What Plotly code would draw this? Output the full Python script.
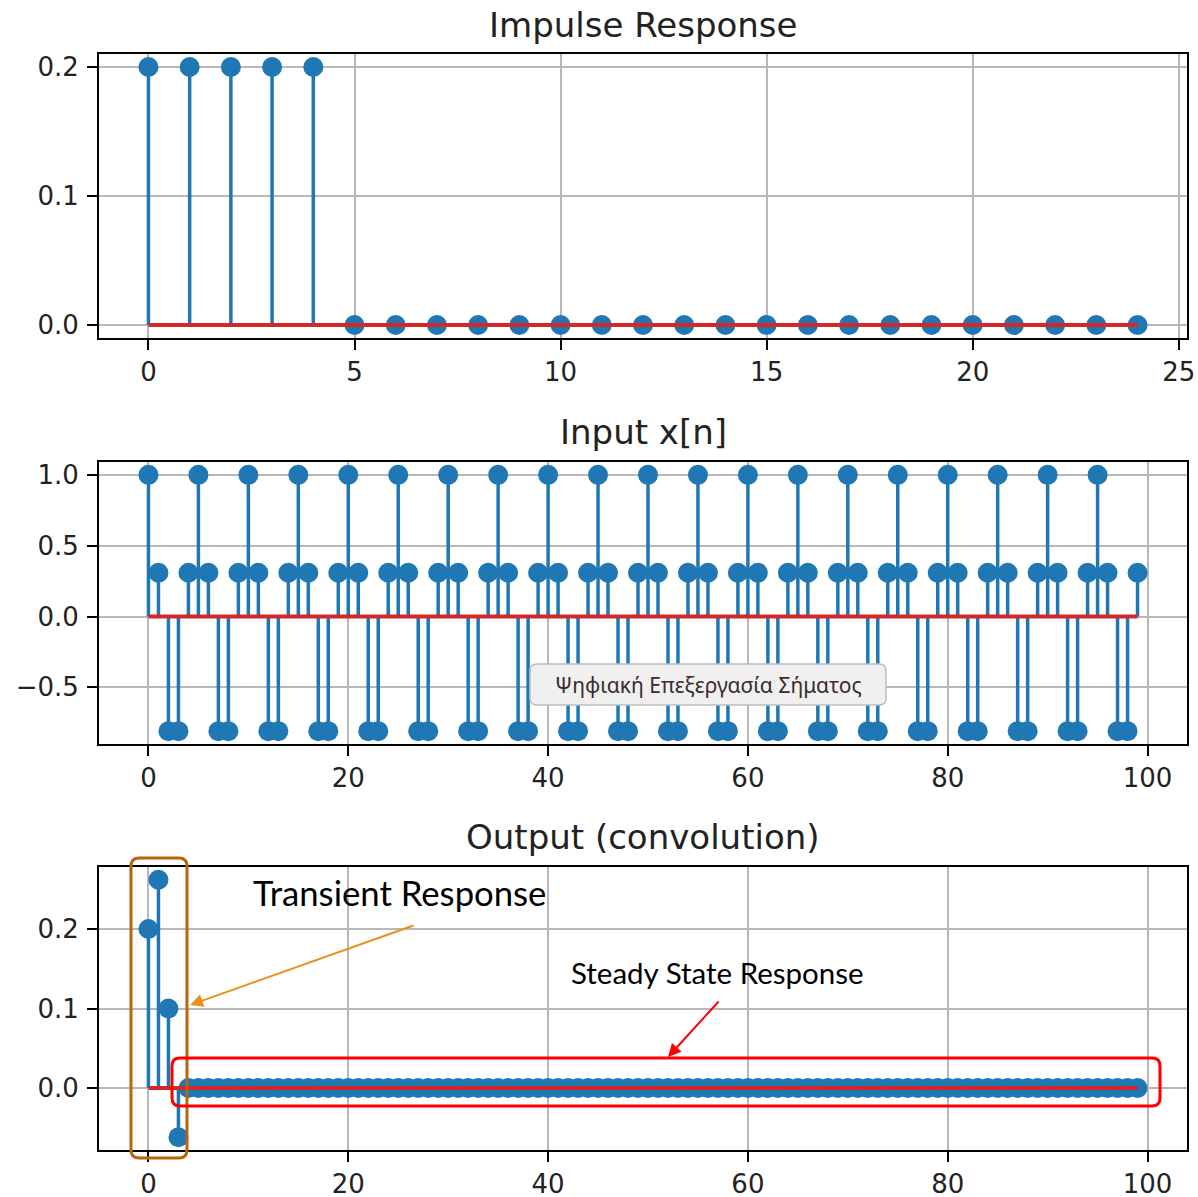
import plotly.graph_objects as go

# ---------------- data ----------------
n_h = list(range(25))
h_vals = [0.2, 0.2, 0.2, 0.2, 0.2,
          0.0, 0.0, 0.0, 0.0, 0.0,
          0.0, 0.0, 0.0, 0.0, 0.0,
          0.0, 0.0, 0.0, 0.0, 0.0,
          0.0, 0.0, 0.0, 0.0, 0.0]

n_x = list(range(100))
x_vals = [
    1.0, 0.309, -0.809, -0.809, 0.309, 1.0, 0.309, -0.809, -0.809, 0.309,
    1.0, 0.309, -0.809, -0.809, 0.309, 1.0, 0.309, -0.809, -0.809, 0.309,
    1.0, 0.309, -0.809, -0.809, 0.309, 1.0, 0.309, -0.809, -0.809, 0.309,
    1.0, 0.309, -0.809, -0.809, 0.309, 1.0, 0.309, -0.809, -0.809, 0.309,
    1.0, 0.309, -0.809, -0.809, 0.309, 1.0, 0.309, -0.809, -0.809, 0.309,
    1.0, 0.309, -0.809, -0.809, 0.309, 1.0, 0.309, -0.809, -0.809, 0.309,
    1.0, 0.309, -0.809, -0.809, 0.309, 1.0, 0.309, -0.809, -0.809, 0.309,
    1.0, 0.309, -0.809, -0.809, 0.309, 1.0, 0.309, -0.809, -0.809, 0.309,
    1.0, 0.309, -0.809, -0.809, 0.309, 1.0, 0.309, -0.809, -0.809, 0.309,
    1.0, 0.309, -0.809, -0.809, 0.309, 1.0, 0.309, -0.809, -0.809, 0.309,
]

n_y = list(range(100))
y_vals = [
    0.2, 0.262, 0.1, -0.062, 0.0, 0.0, 0.0, 0.0, 0.0, 0.0,
    0.0, 0.0, 0.0, 0.0, 0.0, 0.0, 0.0, 0.0, 0.0, 0.0,
    0.0, 0.0, 0.0, 0.0, 0.0, 0.0, 0.0, 0.0, 0.0, 0.0,
    0.0, 0.0, 0.0, 0.0, 0.0, 0.0, 0.0, 0.0, 0.0, 0.0,
    0.0, 0.0, 0.0, 0.0, 0.0, 0.0, 0.0, 0.0, 0.0, 0.0,
    0.0, 0.0, 0.0, 0.0, 0.0, 0.0, 0.0, 0.0, 0.0, 0.0,
    0.0, 0.0, 0.0, 0.0, 0.0, 0.0, 0.0, 0.0, 0.0, 0.0,
    0.0, 0.0, 0.0, 0.0, 0.0, 0.0, 0.0, 0.0, 0.0, 0.0,
    0.0, 0.0, 0.0, 0.0, 0.0, 0.0, 0.0, 0.0, 0.0, 0.0,
    0.0, 0.0, 0.0, 0.0, 0.0, 0.0, 0.0, 0.0, 0.0, 0.0,
]

titles = ["Impulse Response", "Input x[n]", "Output (convolution)"]

# ---------------- layout helpers ----------------
W, H = 1198, 1197
def px(x): return x / W
def py(y): return 1 - y / H

BLUE = "#1f77b4"
RED = "#d62728"
TXT = "#222222"

fig = go.Figure()

panels = [
    (n_h, h_vals, "x", "y", [-1.2, 25.2], 5, [-0.0101, 0.2101], 0.1, (54, 338), 25),
    (n_x, x_vals, "x2", "y2", [-4.95, 103.95], 20, [-0.8995, 1.0905], 0.5, (462, 744), 432),
    (n_y, y_vals, "x3", "y3", [-4.95, 103.95], 20, [-0.0780, 0.2780], 0.1, (867, 1150), 837),
]

for i, (nn, vv, xa, ya, xr, dx, yr, dy, (top, bot), ty) in enumerate(panels):
    sx, sy = [], []
    for a, b in zip(nn, vv):
        sx += [a, a, None]
        sy += [0, b, None]
    fig.add_trace(go.Scatter(x=sx, y=sy, mode="lines", xaxis=xa, yaxis=ya,
                             line=dict(color=BLUE, width=3.5), hoverinfo="skip",
                             showlegend=False))
    fig.add_trace(go.Scatter(x=nn, y=vv, mode="markers", xaxis=xa, yaxis=ya,
                             marker=dict(color=BLUE, size=20, line=dict(width=0)),
                             showlegend=False))
    fig.add_trace(go.Scatter(x=[nn[0], nn[-1]], y=[0, 0], mode="lines",
                             xaxis=xa, yaxis=ya, line=dict(color=RED, width=4),
                             showlegend=False))
    suffix = "" if i == 0 else str(i + 1)
    common = dict(showline=True, mirror=True, linecolor="black", linewidth=2,
                  showgrid=True, gridcolor="#b8b8b8", gridwidth=1.5,
                  zeroline=False, ticks="outside", ticklen=10, tickwidth=2,
                  tickcolor="black", tickfont=dict(family="DejaVu Sans", size=26, color=TXT),
                  automargin=False)
    fig.layout["xaxis" + suffix] = dict(domain=[px(99), px(1187)], range=xr,
                                        dtick=dx, tick0=0, anchor="y" + suffix,
                                        ticklabelstandoff=0, **common)
    fig.layout["yaxis" + suffix] = dict(domain=[py(bot), py(top)], range=yr,
                                        dtick=dy, tick0=0, tickformat=".1f",
                                        anchor="x" + suffix, ticklabelstandoff=3, **common)
    fig.add_annotation(text=titles[i], xref="paper", yref="paper",
                       x=px(643), y=py(ty), xanchor="center", yanchor="middle",
                       showarrow=False, font=dict(family="DejaVu Sans", size=34, color=TXT))

# ---------------- overlay decorations ----------------
def rrect(x0, y0, x1, y1, r):
    pts = [("M", x0 + r, y0), ("L", x1 - r, y0), ("Q", x1, y0, x1, y0 + r),
           ("L", x1, y1 - r), ("Q", x1, y1, x1 - r, y1), ("L", x0 + r, y1),
           ("Q", x0, y1, x0, y1 - r), ("L", x0, y0 + r), ("Q", x0, y0, x0 + r, y0)]
    s = ""
    for p in pts:
        cmd = p[0]
        coords = p[1:]
        parts = []
        for k in range(0, len(coords), 2):
            parts.append(f"{px(coords[k]):.5f},{py(coords[k+1]):.5f}")
        s += cmd + " " + " ".join(parts) + " "
    return s + "Z"

# tooltip-like label
fig.add_shape(type="path", path=rrect(530, 664, 886, 705, 7), xref="paper", yref="paper",
              fillcolor="#f0f0f0", line=dict(color="#bdbdbd", width=1.5))
fig.add_annotation(text="Ψηφιακή Επεξεργασία Σήματος", xref="paper", yref="paper",
                   x=px(708), y=py(685), xanchor="center", yanchor="middle", showarrow=False,
                   font=dict(family="Noto Sans", size=21, color="#3a2b2b"))

# transient box (brown)
fig.add_shape(type="path", path=rrect(131, 858, 187, 1158, 8), xref="paper", yref="paper",
              line=dict(color="#b5650d", width=3))
# steady-state box (red)
fig.add_shape(type="path", path=rrect(172, 1058, 1160, 1106, 8), xref="paper", yref="paper",
              line=dict(color="#ff0000", width=3))

fig.add_annotation(text="Transient Response", xref="paper", yref="paper",
                   x=px(251), y=py(892), xanchor="left", yanchor="middle", showarrow=False,
                   font=dict(family="Lato", size=34.7, color="black"))
fig.add_annotation(text="", xref="paper", yref="paper", x=px(190), y=py(1005),
                   ax=225, ay=-80, showarrow=True, arrowhead=2, arrowsize=1.3,
                   arrowwidth=2, arrowcolor="#e8901c")

fig.add_annotation(text="Steady State Response", xref="paper", yref="paper",
                   x=px(569), y=py(972), xanchor="left", yanchor="middle", showarrow=False,
                   font=dict(family="Lato", size=29.5, color="black"))
fig.add_annotation(text="", xref="paper", yref="paper", x=px(668), y=py(1057),
                   ax=52, ay=-57, showarrow=True, arrowhead=2, arrowsize=1.3,
                   arrowwidth=2, arrowcolor="#ff0000")

fig.update_layout(width=W, height=H, margin=dict(l=0, r=0, t=0, b=0),
                  plot_bgcolor="white", paper_bgcolor="white", showlegend=False)

fig.write_html("out.html", config={"displayModeBar": False},
               post_script="document.body.style.margin='0';document.body.style.padding='0';"
                           "document.body.style.overflow='hidden';")
